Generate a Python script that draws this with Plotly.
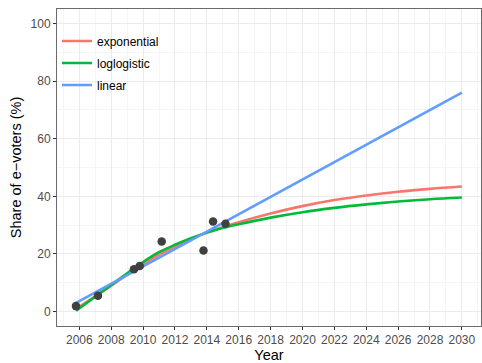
import plotly.graph_objects as go

# Observed shares of e-voters (Estonian elections)
obs_year = [2005.79, 2007.17, 2009.43, 2009.79, 2011.17, 2013.79, 2014.39, 2015.17]
obs_share = [1.9, 5.5, 14.7, 15.8, 24.3, 21.2, 31.3, 30.5]

# Model curves
exp_year = [2005.8, 2007, 2008, 2009, 2010, 2011, 2012, 2013, 2014, 2015, 2016, 2018, 2020, 2022, 2024, 2026, 2028, 2030]
exp_share = [1.0, 5.3, 9.0, 12.8, 16.4, 19.8, 22.6, 25.1, 27.4, 29.3, 31.0, 34.0, 36.6, 38.7, 40.3, 41.6, 42.6, 43.4]

log_year = [2005.8, 2007, 2008, 2009, 2010, 2011, 2012, 2013, 2014, 2015, 2016, 2018, 2020, 2022, 2024, 2026, 2028, 2030]
log_share = [0.3, 5.2, 9.2, 13.3, 17.2, 20.6, 23.2, 25.5, 27.4, 29.0, 30.3, 32.6, 34.5, 36.0, 37.2, 38.2, 39.0, 39.6]

lin_year = [2005.8, 2030]
lin_share = [3.0, 76.0]

x_ticks = list(range(2006, 2031, 2))
y_ticks = [0, 20, 40, 60, 80, 100]

FONT = "Liberation Sans, Arial, Helvetica, sans-serif"

fig = go.Figure()
fig.add_trace(go.Scatter(x=exp_year, y=exp_share, mode="lines", name="exponential",
                         line=dict(color="#F8766D", width=2.6, shape="spline"), legendgroup="a"))
fig.add_trace(go.Scatter(x=log_year, y=log_share, mode="lines", name="loglogistic",
                         line=dict(color="#00BA38", width=2.6, shape="spline"), legendgroup="b"))
fig.add_trace(go.Scatter(x=lin_year, y=lin_share, mode="lines", name="linear",
                         line=dict(color="#619CFF", width=2.6), legendgroup="c"))
fig.add_trace(go.Scatter(x=obs_year, y=obs_share, mode="markers", showlegend=False,
                         marker=dict(color="#404040", size=8.5, line=dict(width=0))))

axis_common = dict(
    showgrid=True, gridcolor="#ebebeb", gridwidth=1,
    showline=True, linecolor="#6a6a6a", linewidth=1, mirror=True,
    ticks="outside", ticklen=3, tickcolor="#333333", tickwidth=1,
    tickfont=dict(family=FONT, size=12, color="#4d4d4d"),
    zeroline=False,
)

fig.update_xaxes(range=[2004.6, 2031.2], tickvals=x_ticks, ticktext=[str(v) for v in x_ticks],
                 minor=dict(dtick=1, tick0=2005, showgrid=True, gridcolor="#f5f5f5", ticks=""),
                 title=dict(text="Year", font=dict(family=FONT, size=14.5, color="#000000"), standoff=3),
                 **axis_common)
fig.update_yaxes(range=[-5, 105], tickvals=y_ticks, ticktext=[str(v) for v in y_ticks],
                 minor=dict(dtick=10, tick0=10, showgrid=True, gridcolor="#f5f5f5", ticks=""),
                 title=dict(text="Share of e\u2212voters (%)", font=dict(family=FONT, size=14.5, color="#000000"), standoff=5),
                 **axis_common)

fig.update_layout(
    width=482, height=363,
    margin=dict(l=57, r=1, t=9, b=37),
    plot_bgcolor="white", paper_bgcolor="white",
    font=dict(family=FONT),
    legend=dict(x=0.0, y=0.945, xanchor="left", yanchor="top", bgcolor="rgba(0,0,0,0)",
                font=dict(family=FONT, size=12, color="#000000"), tracegroupgap=3),
)

fig.write_html("out.html")
